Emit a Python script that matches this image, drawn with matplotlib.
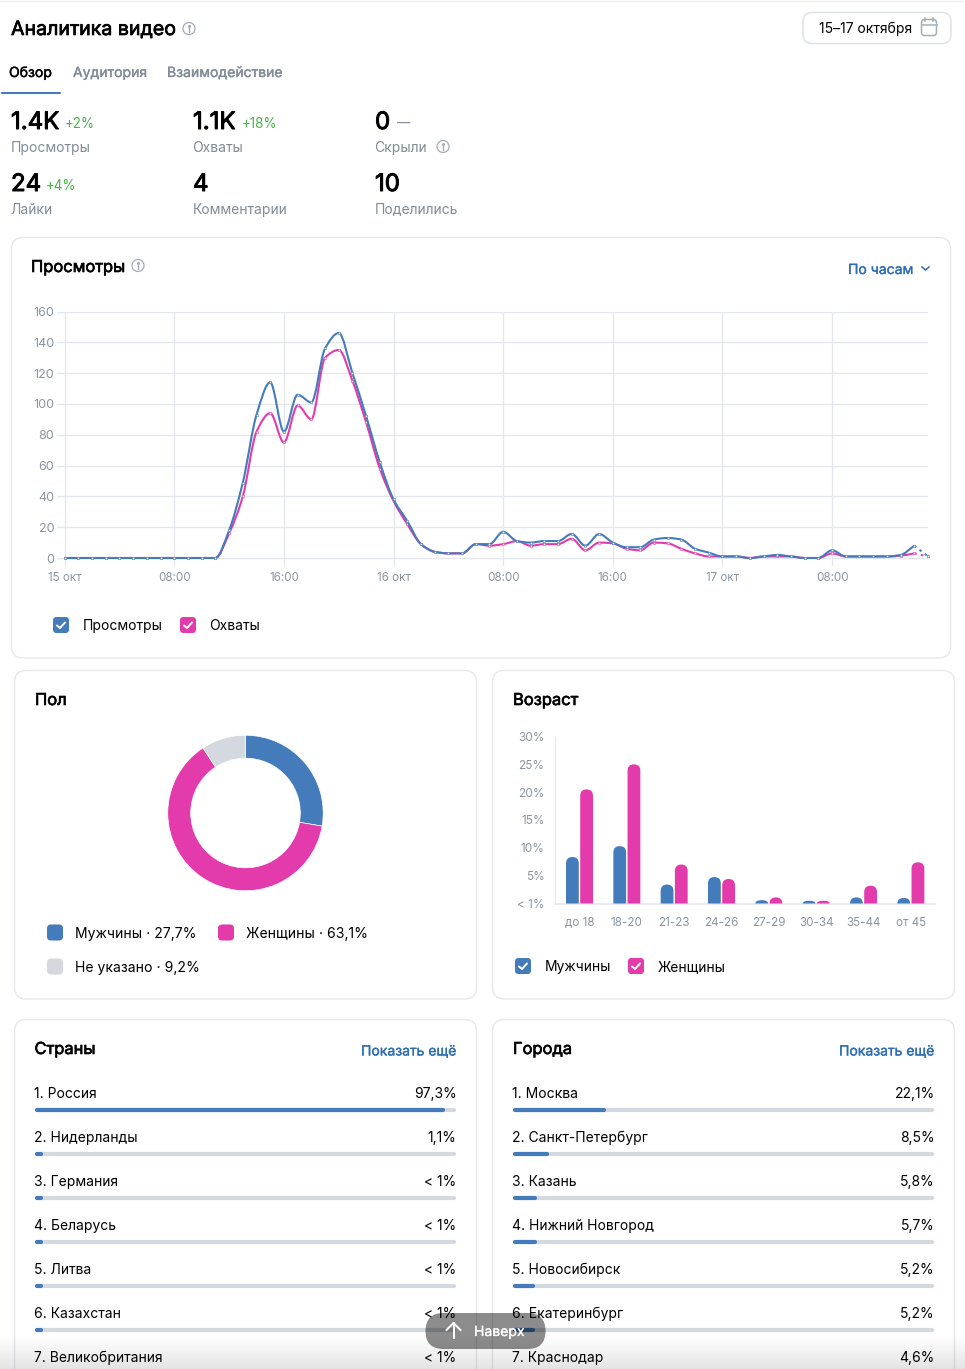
#!/usr/bin/env python
# -*- coding: utf-8 -*-

import numpy as np
import matplotlib
matplotlib.use('Agg')
import matplotlib.pyplot as plt
import matplotlib.patheffects as effects
from matplotlib.patches import FancyBboxPatch, Circle, PathPatch
from matplotlib.path import Path

plt.rcParams['font.family'] = ['Inter', 'DejaVu Sans']

WIDTH, HEIGHT = 965, 1369

BLUE = '#447BBA'
PINK = '#E33BAB'
LIGHT = '#D3D9DE'
GREY_TEXT = '#818C99'
AXIS_TEXT = '#8B95A1'
BLACK = '#000000'
BORDER = '#E7E8EC'
GRID = '#E3E7EC'
GREEN = '#4BB34B'
LINK = '#2D6DB5'
ICON = '#A3ADB8'

# Hourly series, 15-17 Oct
hours = list(range(64))
views = [0, 0, 0, 0, 0, 0, 0, 0, 0, 0, 0, 0, 18, 49, 93, 114, 82, 106, 101, 136,
         146, 120, 92, 62, 38, 24, 9, 4, 3, 3, 9, 9, 17, 11, 10, 11, 11, 15.6, 8, 15.6,
         10, 7, 7, 12, 13, 12, 6, 3.5, 1, 1, 0, 1, 2, 1, 0, 0, 5, 1, 1, 1,
         1, 2, 8, 1]
reach = [0, 0, 0, 0, 0, 0, 0, 0, 0, 0, 0, 0, 16, 40, 82, 94, 75, 99, 90, 130,
         135, 115, 88, 58, 37, 22, 9, 4, 3, 3, 9, 8, 9, 11, 8, 9, 9, 12.5, 5, 10,
         9.5, 6, 5, 10, 9.5, 6, 3, 1, 1, 1, 0, 1, 1, 1, 0, 0, 3, 1, 1, 1,
         1, 1.5, 3, 1]
hour_ticks = [0, 8, 16, 24, 32, 40, 48, 56]
hour_labels = ['15 окт', '08:00', '16:00', '16 окт', '08:00', '16:00', '17 окт', '08:00']
view_ticks = [0, 20, 40, 60, 80, 100, 120, 140, 160]

gender_shares = [27.7, 63.1, 9.2]

age_groups = ['до 18', '18-20', '21-23', '24-26', '27-29', '30-34', '35-44', 'от 45']
age_men = [8.35, 10.3, 3.4, 4.75, 0.6, 0.5, 1.1, 1.0]
age_women = [20.5, 25.0, 7.0, 4.4, 1.1, 0.5, 3.2, 7.4]
age_ticks = [0, 5, 10, 15, 20, 25, 30]
age_tick_labels = ['< 1%', '5%', '10%', '15%', '20%', '25%', '30%']

countries = ['1. Россия', '2. Нидерланды', '3. Германия', '4. Беларусь', '5. Литва',
             '6. Казахстан', '7. Великобритания']
country_shares = [97.3, 1.1, 0.5, 0.5, 0.5, 0.5, 0.5]
country_labels = ['97,3%', '1,1%', '< 1%', '< 1%', '< 1%', '< 1%', '< 1%']

cities = ['1. Москва', '2. Санкт-Петербург', '3. Казань', '4. Нижний Новгород',
          '5. Новосибирск', '6. Екатеринбург', '7. Краснодар']
city_shares = [22.1, 8.5, 5.8, 5.7, 5.2, 5.2, 4.6]
city_labels = ['22,1%', '8,5%', '5,8%', '5,7%', '5,2%', '5,2%', '4,6%']


def px_axes(fig, left, top, right, bottom):
    """Axes placed with pixel coordinates measured from the top left"""
    return fig.add_axes([left / WIDTH, 1 - bottom / HEIGHT,
                         (right - left) / WIDTH, (bottom - top) / HEIGHT])


def txt(ax, x, y, text, size, color=BLACK, stroke=0.0, ha='left', zorder=5):
    # y is the baseline, size is in pixels; stroke thickens headings
    label = ax.text(x, y, text, fontsize=size * 0.72, color=color, ha=ha, va='baseline', zorder=zorder)
    if stroke:
        label.set_path_effects([effects.withStroke(linewidth=stroke, foreground=color)])


def box(ax, x0, y0, x1, y1, radius, face='none', edge='none', lw=1.0, zorder=2, alpha=None):
    ax.add_patch(FancyBboxPatch((x0, y0), x1 - x0, y1 - y0,
                                boxstyle='round,pad=0,rounding_size=%s' % radius,
                                facecolor=face, edgecolor=edge, linewidth=lw,
                                zorder=zorder, alpha=alpha))


def info_icon(ax, x, y):
    ax.add_patch(Circle((x, y), 6, facecolor='none', edgecolor=ICON, linewidth=0.9, zorder=5))
    ax.plot([x, x], [y - 0.5, y + 3], color=ICON, lw=1.0, zorder=5)
    ax.plot([x], [y - 3], marker='o', ms=1.2, color=ICON, zorder=5)


def checkbox(ax, x, y, color):
    box(ax, x, y, x + 16, y + 16, 3.5, face=color, zorder=3)
    ax.plot([x + 4, x + 7, x + 12], [y + 8.5, y + 11, y + 5.5], color='white', lw=1.4,
            solid_capstyle='round', solid_joinstyle='round', zorder=4)


def smooth_path(xs, ys):
    """Monotone cubic path through the points, same look as the source line"""
    xs = np.asarray(xs, dtype=float)
    ys = np.asarray(ys, dtype=float)
    slopes = np.diff(ys) / np.diff(xs)
    tangents = np.zeros(len(xs))
    for i in range(1, len(xs) - 1):
        if slopes[i - 1] * slopes[i] > 0:
            tangents[i] = 2 * slopes[i - 1] * slopes[i] / (slopes[i - 1] + slopes[i])
    tangents[0] = slopes[0]
    tangents[-1] = slopes[-1]
    verts = [(xs[0], ys[0])]
    codes = [Path.MOVETO]
    for i in range(len(xs) - 1):
        step = (xs[i + 1] - xs[i]) / 3
        verts += [(xs[i] + step, ys[i] + tangents[i] * step),
                  (xs[i + 1] - step, ys[i + 1] - tangents[i + 1] * step),
                  (xs[i + 1], ys[i + 1])]
        codes += [Path.CURVE4] * 3
    return Path(verts, codes)


def top_rounded_bar(x0, x1, height, rx, ry):
    """Bar with rounded top corners, rx and ry are in data units"""
    ry = min(ry, height)
    verts = [(x0, 0), (x0, height - ry), (x0, height), (x0 + rx, height),
             (x1 - rx, height), (x1, height), (x1, height - ry), (x1, 0), (x0, 0)]
    codes = [Path.MOVETO, Path.LINETO, Path.CURVE3, Path.CURVE3,
             Path.LINETO, Path.CURVE3, Path.CURVE3, Path.LINETO, Path.CLOSEPOLY]
    return Path(verts, codes)


def ranking(ax, x0, x1, names, shares, labels):
    for i, name in enumerate(names):
        y = 1098 + 44 * i
        txt(ax, x0 - 0.5, y, name, 13.9)
        txt(ax, x1 + 0.5, y, labels[i], 13.9, ha='right')
        bar_y = y + 11.5
        ax.plot([x0 + 2, x1 - 2], [bar_y, bar_y], color=LIGHT, lw=3, solid_capstyle='round', zorder=3)
        fill = max((x1 - x0) * shares[i] / 100, 8)
        ax.plot([x0 + 2, x0 + fill - 2], [bar_y, bar_y], color=BLUE, lw=3, solid_capstyle='round', zorder=4)


fig = plt.figure(figsize=(WIDTH / 100, HEIGHT / 100), dpi=100, facecolor='white')

# Page layer, in pixels
page = fig.add_axes([0, 0, 1, 1], zorder=0)
page.axis('off')

page.plot([0, WIDTH], [0.5, 0.5], color='#EFEFEF', lw=1)
txt(page, 11, 35, 'Аналитика видео', 19.6, stroke=0.5)
info_icon(page, 189, 28.5)

box(page, 803, 12.5, 951, 43.5, 9, edge='#DCE1E6')
txt(page, 819, 33, '15–17 октября', 13.9)
box(page, 921.5, 19.5, 936.5, 35.5, 3, edge=ICON, lw=1.1)
page.plot([921.5, 936.5], [24.5, 24.5], color=ICON, lw=1.1)
page.plot([925, 925], [18, 21], color=ICON, lw=1.1)
page.plot([933, 933], [18, 21], color=ICON, lw=1.1)

txt(page, 9, 77, 'Обзор', 14, stroke=0.3)
txt(page, 73, 77, 'Аудитория', 14, color=GREY_TEXT, stroke=0.25)
txt(page, 167, 77, 'Взаимодействие', 14, color=GREY_TEXT, stroke=0.25)
page.plot([2, 60], [92.5, 92.5], color=BLUE, lw=1.5, solid_capstyle='round')

stat_x = [11, 193, 375]
stat_values = ['1.4K', '1.1K', '0', '24', '4', '10']
stat_names = ['Просмотры', 'Охваты', 'Скрыли', 'Лайки', 'Комментарии', 'Поделились']
stat_deltas = ['+2%', '+18%', '—', '+4%', '', '']
delta_x = [65, 242, 397, 46, 0, 0]
for i, value in enumerate(stat_values):
    row = i // 3
    x = stat_x[i % 3]
    txt(page, x, 129 + 62 * row, value, 24, stroke=0.7)
    txt(page, x - 0.5, 152 + 61.6 * row, stat_names[i], 13.9, color=GREY_TEXT)
    if stat_deltas[i]:
        delta_color = GREEN if stat_deltas[i] != '—' else GREY_TEXT
        txt(page, delta_x[i], 128 + 62 * row, stat_deltas[i], 13.4, color=delta_color)
info_icon(page, 443, 146.5)

# Cards
box(page, 11.5, 237.5, 950.5, 658, 12, face='white', edge=BORDER)
box(page, 14.5, 670.5, 476.5, 999, 12, face='white', edge=BORDER)
box(page, 492.5, 670.5, 954.5, 999, 12, face='white', edge=BORDER)
box(page, 14.5, 1019.5, 476.5, 1420, 12, face='white', edge=BORDER)
box(page, 492.5, 1019.5, 954.5, 1420, 12, face='white', edge=BORDER)

txt(page, 31, 272, 'Просмотры', 16.5, stroke=0.45)
info_icon(page, 138, 265.5)
txt(page, 848, 274, 'По часам', 14, color=LINK, stroke=0.2)
page.plot([922, 925.5, 929], [267, 270, 267], color=LINK, lw=1.1, zorder=5)
checkbox(page, 53, 617, BLUE)
txt(page, 83, 630, 'Просмотры', 13.9)
checkbox(page, 180, 617, PINK)
txt(page, 209.5, 630, 'Охваты', 13.9)

txt(page, 35, 705, 'Пол', 16.5, stroke=0.45)
txt(page, 513, 705, 'Возраст', 16.5, stroke=0.45)
box(page, 47, 924.5, 63, 940.5, 4, face=BLUE, zorder=3)
txt(page, 75, 938, 'Мужчины · 27,7%', 14)
box(page, 218, 924.5, 234, 940.5, 4, face=PINK, zorder=3)
txt(page, 246, 938, 'Женщины · 63,1%', 14)
box(page, 47, 958.5, 63, 974.5, 4, face=LIGHT, zorder=3)
txt(page, 75, 972, 'Не указано · 9,2%', 14)
checkbox(page, 515, 958, BLUE)
txt(page, 545, 971, 'Мужчины', 13.9)
checkbox(page, 628, 958, PINK)
txt(page, 657.5, 971, 'Женщины', 13.9)

txt(page, 34.5, 1054, 'Страны', 16.5, stroke=0.45)
txt(page, 456.5, 1055.5, 'Показать ещё', 14, color=LINK, stroke=0.2, ha='right')
txt(page, 513, 1054, 'Города', 16.5, stroke=0.45)
txt(page, 934.5, 1055.5, 'Показать ещё', 14, color=LINK, stroke=0.2, ha='right')
ranking(page, 35, 456, countries, country_shares, country_labels)
ranking(page, 513, 934, cities, city_shares, city_labels)

# Soft shadow at the bottom edge of the screenshot
shade = np.zeros((34, 1, 4))
shade[:, 0, 3] = np.linspace(0.0, 0.11, 34)
page.imshow(shade, extent=(0, WIDTH, 1369, 1335), aspect='auto', zorder=5.5, interpolation='bilinear')

# Scroll button over the list
box(page, 425.5, 1313, 545.5, 1349, 18, face='#000000', alpha=0.45, zorder=6)
page.plot([453.5, 453.5], [1338, 1323], color='white', lw=1.4, zorder=7)
page.plot([446.5, 453.5, 460.5], [1330, 1323, 1330], color='white', lw=1.4, zorder=7)
txt(page, 474, 1336, 'Наверх', 14, color='white', stroke=0.15, zorder=7)

page.set_xlim(0, WIDTH)
page.set_ylim(HEIGHT, 0)

# Views per hour
line_ax = px_axes(fig, 57, 311.5, 928, 566)
line_ax.set_xlim(-0.56, 63)
line_ax.set_ylim(-5.19, 160)
line_ax.set_facecolor('none')
for spine in line_ax.spines.values():
    spine.set_visible(False)
line_ax.set_xticks(hour_ticks)
line_ax.set_xticklabels(hour_labels)
line_ax.set_yticks(view_ticks)
line_ax.tick_params(axis='y', length=0, labelsize=12.6 * 0.72, labelcolor=AXIS_TEXT, pad=2)
line_ax.tick_params(axis='x', length=0, labelsize=11.6 * 0.72, labelcolor=AXIS_TEXT, pad=4.5)
line_ax.grid(True, color=GRID, linewidth=0.9)
line_ax.set_axisbelow(True)
for series, color, z in ((reach, PINK, 3), (views, BLUE, 4)):
    line_ax.add_patch(PathPatch(smooth_path(hours[:-1], series[:-1]), facecolor='none',
                                edgecolor=color, linewidth=1.5, zorder=z, clip_on=False))
    line_ax.plot(hours[-2:], series[-2:], color=color, lw=1.5, ls=(0, (1.2, 2)), zorder=z)
    line_ax.plot(hours, series, ls='none', marker='o', ms=1.8, mfc='white', mec=color,
                 mew=0.4, zorder=z + 0.5, clip_on=False)

# Gender donut
pie_ax = px_axes(fig, 167, 734.5, 324, 891.5)
pie_ax.pie(gender_shares, colors=[BLUE, PINK, LIGHT], startangle=90, counterclock=False,
           radius=1.0, wedgeprops={'width': 23 / 78, 'edgecolor': 'white', 'linewidth': 0.5})
pie_ax.set_xlim(-1.01, 1.01)
pie_ax.set_ylim(-1.01, 1.01)

# Age bars
age_ax = px_axes(fig, 555, 736.5, 934.5, 903.5)
age_ax.set_xlim(-0.5176, 7.5)
age_ax.set_ylim(0, 30)
age_ax.set_facecolor('none')
for name in ('top', 'right'):
    age_ax.spines[name].set_visible(False)
age_ax.spines['left'].set_color(GRID)
age_ax.spines['bottom'].set_color(GRID)
age_ax.spines['left'].set_linewidth(0.8)
age_ax.spines['bottom'].set_linewidth(1.2)
age_ax.set_xticks(range(len(age_groups)))
age_ax.set_xticklabels(age_groups)
age_ax.set_yticks(age_ticks)
age_ax.set_yticklabels(age_tick_labels)
age_ax.tick_params(axis='x', length=0, labelsize=11.6 * 0.72, labelcolor=AXIS_TEXT, pad=10)
age_ax.tick_params(axis='y', length=0, labelsize=11.8 * 0.72, labelcolor=AXIS_TEXT, pad=7.5)
bar_width = 0.27
x_radius = bar_width / 2
y_radius = 6.4 * 30 / 167
for i in range(len(age_groups)):
    for value, color, offset in ((age_men[i], BLUE, -0.15), (age_women[i], PINK, 0.15)):
        center = i + offset
        age_ax.add_patch(PathPatch(top_rounded_bar(center - bar_width / 2, center + bar_width / 2,
                                                   value, x_radius, y_radius),
                                   facecolor=color, edgecolor='none', zorder=3))

fig.savefig('out.png', dpi=100, facecolor='white')
